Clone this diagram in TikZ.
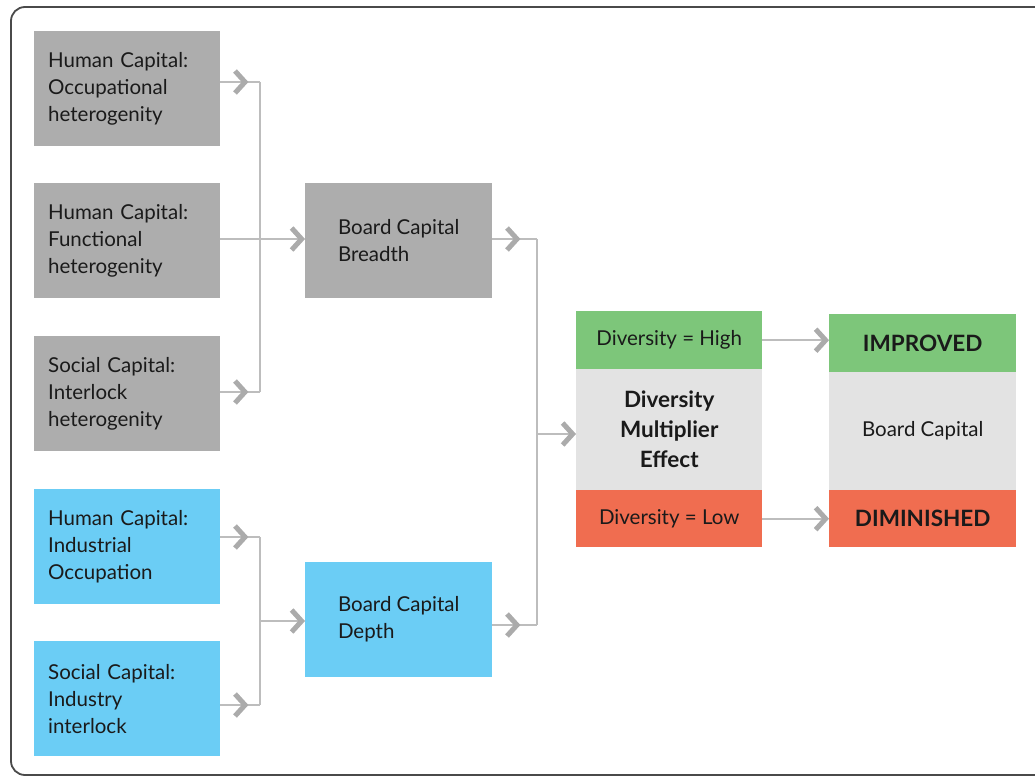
\documentclass[tikz,border=0pt]{standalone}
\usepackage{fontspec}
\setmainfont{Lato}
\usetikzlibrary{arrows.meta,decorations.markings}
\definecolor{boxgray}{HTML}{ADADAD}
\definecolor{boxblue}{HTML}{6BCDF5}
\definecolor{boxgreen}{HTML}{7DC67A}
\definecolor{boxred}{HTML}{F06D50}
\definecolor{boxlight}{HTML}{E3E3E3}
\definecolor{linegray}{HTML}{BDBDBD}
\definecolor{chevgray}{HTML}{ABABAB}
\definecolor{framegray}{HTML}{4A4A4A}
\definecolor{txt}{HTML}{1A1A1A}
\begin{document}
\begin{tikzpicture}[x=1pt,y=-1pt,
  chev/.tip={Straight Barb[length=10pt,width=22pt,line width=5pt,color=chevgray]},
  conn/.style={draw=linegray, line width=2pt},
  midchev/.style={postaction={decorate,decoration={markings,mark=at position 28pt with {\arrow{chev}}}}},
  srcbox/.style={rectangle, draw=none, minimum width=186pt, minimum height=115pt, anchor=north west,
    inner xsep=14pt, text width=158pt, align=left, text=txt, font=\fontsize{20.5}{27}\selectfont},
  midbox/.style={rectangle, draw=none, minimum width=187pt, minimum height=115pt, anchor=north west,
    align=left, text=txt, font=\fontsize{20.5}{27}\selectfont},
  colbox/.style={rectangle, draw=none, minimum width=186pt, anchor=north west, align=center, text=txt, inner sep=0pt}
]
\clip (0,0) rectangle (1035,778);
\draw[framegray, line width=1.8pt, rounded corners=14pt] (11,7) rectangle (1060,775);

% left source boxes
\node[srcbox, fill=boxgray] (h1) at (34,31) {Human Capital:\\Occupational\\heterogenity};
\node[srcbox, fill=boxgray] (h2) at (34,183) {Human Capital:\\Functional\\heterogenity};
\node[srcbox, fill=boxgray] (h3) at (34,336) {Social Capital:\\Interlock\\heterogenity};
\node[srcbox, fill=boxblue] (b1) at (34,489) {Human Capital:\\Industrial\\Occupation};
\node[srcbox, fill=boxblue] (b2) at (34,641) {Social Capital:\\Industry\\interlock};

% middle boxes
\node[midbox, fill=boxgray] (breadth) at (305,183) {Board Capital\\Breadth};
\node[midbox, fill=boxblue] (depth) at (305,562) {Board Capital\\Depth};

% diversity column
\node[colbox, fill=boxgreen, minimum height=58pt, font=\fontsize{20.5}{24}\selectfont] (high) at (576,311) {Diversity = High};
\node[colbox, fill=boxlight, minimum height=121pt, font=\fontsize{22.5}{30}\selectfont\bfseries] (mult) at (576,369) {Diversity\\Multiplier\\Effect};
\node[colbox, fill=boxred, minimum height=57pt, font=\fontsize{20.5}{24}\selectfont] (low) at (576,490) {Diversity = Low};

% result column
\node[colbox, fill=boxgreen, minimum height=58pt, minimum width=187pt, font=\fontsize{22.5}{26}\selectfont\bfseries] (imp) at (829,314) {IMPROVED};
\node[colbox, fill=boxlight, minimum height=118pt, minimum width=187pt, font=\fontsize{20.5}{24}\selectfont] (bc) at (829,372) {Board Capital};
\node[colbox, fill=boxred, minimum height=57pt, minimum width=187pt, font=\fontsize{22.5}{26}\selectfont\bfseries] (dim) at (829,490) {DIMINISHED};

% bus coordinates
\coordinate (aT) at (260,82);
\coordinate (aM) at (260,239);
\coordinate (aB) at (260,392);
\coordinate (bT) at (260,537);
\coordinate (bM) at (260,621);
\coordinate (bB) at (260,705);
\coordinate (cT) at (537,239);
\coordinate (cM) at (537,434);
\coordinate (cB) at (537,625);

% buses
\draw[conn] (aT) -- (aB);
\draw[conn] (bT) -- (bB);
\draw[conn] (cT) -- (cB);

% connectors into buses
\draw[conn, midchev] (h1.east |- aT) -- (aT);
\draw[conn, midchev] (h3.east |- aB) -- (aB);
\draw[conn, midchev] (b1.east |- bT) -- (bT);
\draw[conn, midchev] (b2.east |- bB) -- (bB);
\draw[conn, midchev] (breadth.east |- cT) -- (cT);
\draw[conn, midchev] (depth.east |- cB) -- (cB);

% connectors out of buses
\draw[conn, -chev] (h2.east |- aM) -- (breadth.west |- aM);
\draw[conn, -chev] (bM) -- (depth.west |- bM);
\draw[conn, -chev] (cM) -- (mult.west |- cM);
\draw[conn, -chev] (high.east) -- (imp.west |- high.east);
\draw[conn, -chev] (low.east) -- (dim.west |- low.east);
\end{tikzpicture}
\end{document}
